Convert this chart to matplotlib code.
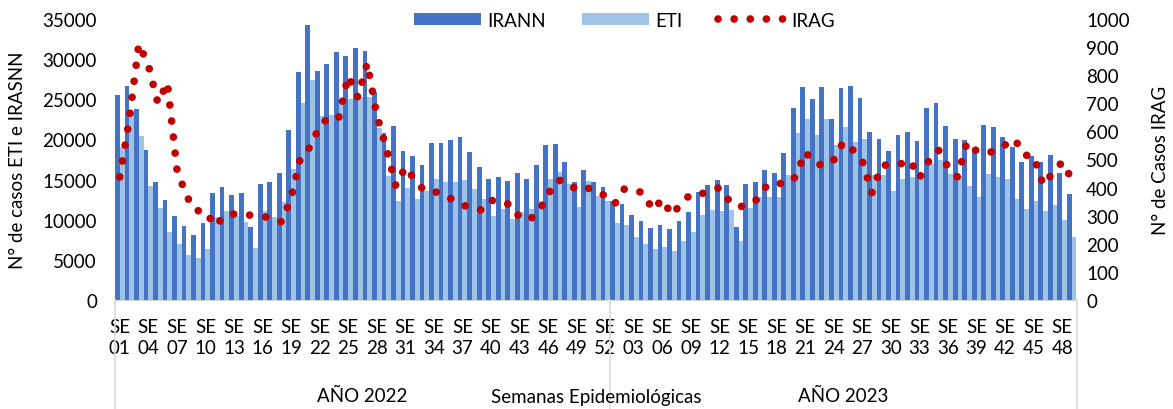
import numpy as np
import matplotlib
matplotlib.use("Agg")
import matplotlib.pyplot as plt

plt.rcParams["font.family"] = ["Lato", "DejaVu Sans"]

# semanas epidemiológicas
semanas_2022 = list(range(1, 53))
semanas_2023 = list(range(1, 50))

# casos IRANN (barras oscuras)
irann = [25500, 26600, 23850, 18700, 14700, 12400, 10500, 9200, 8050, 9600,
         13300, 14100, 13100, 13350, 9050, 14400, 14650, 15800, 21150, 28400,
         34300, 28550, 29400, 30850, 30400, 31450, 31050, 25900, 20800, 21650,
         18500, 17900, 16800, 19550, 19550, 19900, 20250, 18450, 16600, 15100,
         15300, 14850, 15850, 15100, 16850, 19250, 19450, 17200, 14650, 16200,
         14750, 14100, 12300, 11950, 10600, 9800, 9000, 9350, 8800, 9800,
         10950, 13450, 14300, 14900, 14300, 9100, 14400, 14750, 16150, 15850,
         18250, 23900, 26550, 25050, 26500, 22500, 26400, 26650, 25100, 20900,
         20000, 18600, 20550, 20900, 19850, 23900, 24550, 21650, 20050, 19900,
         18600, 21750, 21500, 20300, 19050, 17250, 17950, 17250, 18000, 15850,
         13200]

# casos ETI (barras claras)
eti = [19000, 23300, 20400, 14200, 11400, 8450, 6950, 5650, 5200, 6400,
       10350, 11050, 10450, 9700, 6500, 11050, 10350, 12200, 16300, 24550,
       27400, 22900, 23050, 24500, 25050, 25300, 25300, 21400, 15400, 12350,
       14000, 12600, 13600, 15050, 14750, 14650, 14950, 13850, 12550, 10500,
       11300, 10150, 10950, 11350, 12350, 15100, 15900, 14450, 11550, 14800,
       12950, 12350, 9600, 9350, 7900, 6950, 6350, 6600, 6100, 7300,
       8450, 10550, 11200, 11100, 11200, 7350, 11400, 12850, 12850, 12850,
       15550, 20850, 22550, 20550, 22600, 19300, 21550, 19700, 20050, 15550,
       15600, 13600, 15100, 15300, 15100, 17000, 17500, 15750, 15400, 14150,
       12850, 15700, 15300, 15100, 12600, 11300, 12350, 11100, 11850, 9950,
       7850]

# casos IRAG (eje secundario)
irag = [438, 641, 911, 836, 701, 774, 466, 370, 318, 317,
        263, 299, 306, 306, 300, 297, 292, 278, 363, 509,
        544, 619, 651, 648, 797, 722, 843, 658, 541, 406,
        473, 427, 388, 386, 377, 356, 338, 327, 320, 356,
        342, 342, 294, 285, 313, 377, 427, 420, 391, 399,
        391, 370, 342, 395, 391, 381, 320, 359, 302, 345,
        377, 377, 388, 400, 354, 331, 338, 359, 409, 416,
        413, 438, 527, 488, 477, 498, 562, 534, 495, 381,
        477, 484, 484, 498, 434, 495, 534, 473, 438, 562,
        530, 523, 530, 552, 573, 516, 512, 409, 452, 491,
        430]

semanas = semanas_2022 + semanas_2023
x = np.arange(len(semanas))
n22 = len(semanas_2022)

W, H = 1173, 410
fs = 13.5
fig = plt.figure(figsize=(W / 100, H / 100), dpi=100)
ax = fig.add_axes([115 / W, 1 - 301 / H, 961.5 / W, 281 / H])

b1 = ax.bar(x - 0.25, irann, width=0.5, color="#4472C4", label="IRANN")
b2 = ax.bar(x + 0.25, eti, width=0.5, color="#9DC3E6", label="ETI")
ax.set_xlim(-0.5, len(x) - 0.5)
ax.set_ylim(0, 35000)
ax.set_yticks(range(0, 35001, 5000))

ax2 = ax.twinx()
l1, = ax2.plot(x, irag, color="#C00000", lw=5.5, linestyle=(0, (0.01, 2.1)),
               dash_capstyle="round", label="IRAG")
ax2.set_ylim(0, 1000)
ax2.set_yticks(range(0, 1001, 100))

# eje x: etiquetas cada 3 semanas
ax.set_xticks(x[::3])
ax.set_xticklabels([f"SE\n{w:02d}" for w in semanas[::3]], linespacing=1.3)
ax.tick_params(axis="x", length=0, pad=13, labelsize=fs)
ax.tick_params(axis="y", length=0, pad=13, labelsize=fs)
ax2.tick_params(axis="y", length=0, pad=7, labelsize=fs)

for a in (ax, ax2):
    for s in ("top", "left", "right"):
        a.spines[s].set_visible(False)
ax2.spines["bottom"].set_visible(False)
ax.spines["bottom"].set_color("#d9d9d9")

# separadores de año
trans = ax.get_xaxis_transform()
for xs in (-0.5, n22 - 0.5, len(x) - 0.5):
    ax.plot([xs, xs], [0, -0.4], transform=trans, color="#d9d9d9", lw=1.2,
            clip_on=False)

ax.text((n22 - 1) / 2, -0.338, "AÑO 2022", transform=trans, ha="center",
        va="center", fontsize=fs)
ax.text((n22 + len(x) - 1) / 2, -0.338, "AÑO 2023", transform=trans,
        ha="center", va="center", fontsize=fs)
ax.text(50.1, -0.345, "Semanas Epidemiológicas", transform=trans,
        ha="center", va="center", fontsize=fs)

fig.text(18 / W, 1 - 160 / H, "N° de casos ETI e IRASNN", rotation=90,
         ha="center", va="center", fontsize=fs)
fig.text(1160 / W, 1 - 160 / H, "N° de Casos IRAG", rotation=90,
         ha="center", va="center", fontsize=fs)

ax2.legend([b1, b2, l1], ["IRANN", "ETI", "IRAG"], loc="center",
           bbox_to_anchor=(0.53, 0.996), ncol=3, frameon=False,
           handlelength=3.6, handleheight=0.65, columnspacing=1.9,
           handletextpad=0.32, fontsize=fs)

fig.savefig("out.png", dpi=100)
